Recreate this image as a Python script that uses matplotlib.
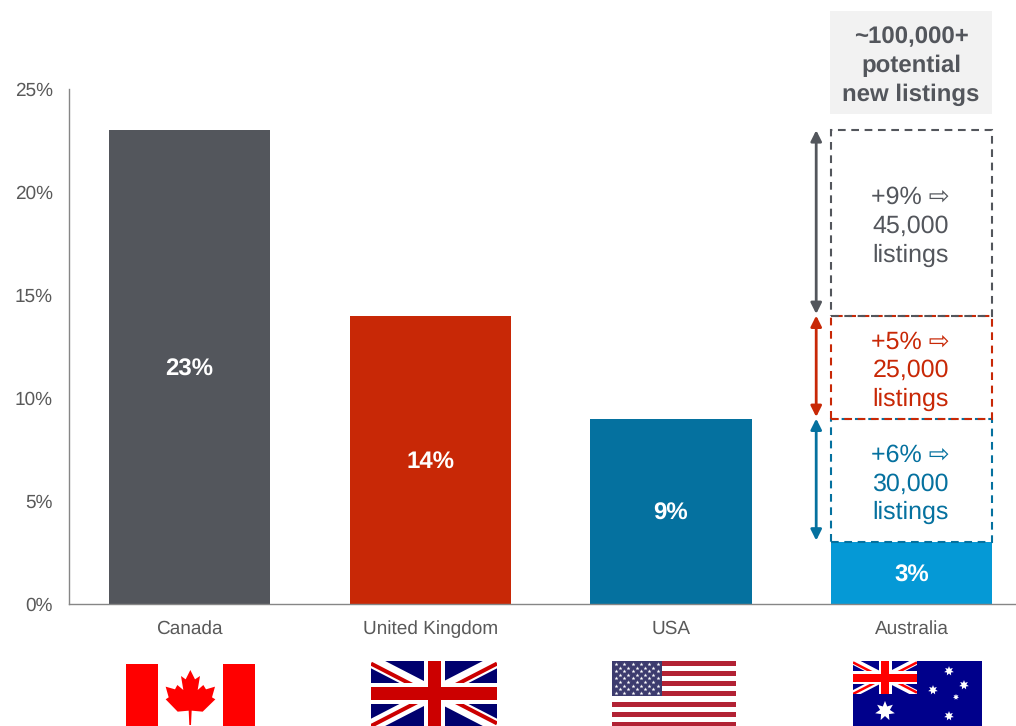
import numpy as np
import matplotlib
matplotlib.use('Agg')
import matplotlib.pyplot as plt
from matplotlib.patches import Rectangle, Polygon

plt.rcParams['font.family'] = ['Liberation Sans', 'DejaVu Sans']
plt.rcParams['text.hinting'] = 'none'
plt.rcParams['text.hinting_factor'] = 1

# data
countries = ['Canada', 'United Kingdom', 'USA', 'Australia']
shares = [23, 14, 9, 3]
bar_colors = ['#53565C', '#C82806', '#05719F', '#0599D6']
# Australia potential uplift if it reached each country's level
uplift = [6, 5, 9]
uplift_listings = ['30,000', '25,000', '45,000']
uplift_colors = ['#05719F', '#C82806', '#53565C']
yticks = [0, 5, 10, 15, 20, 25]
total_note = '~100,000+\npotential\nnew listings'

W, H = 1016, 726
GREY_TXT = '#595959'
fig = plt.figure(figsize=(W / 100, H / 100), dpi=100)

# main axes runs past the right edge so the categories stay evenly spaced
ax = fig.add_axes([69 / W, (H - 604) / H, 963.2 / W, 515 / H])
x = np.arange(len(countries))
ax.bar(x, shares, width=0.669, color=bar_colors, zorder=2)
ax.set_xlim(-0.5, 3.5)
ax.set_ylim(0, 25)
ax.set_xticks(x)
ax.set_xticklabels(countries, fontsize=13.8, color=GREY_TXT)
ax.set_yticks(yticks)
ax.set_yticklabels([str(v) + '%' for v in yticks], fontsize=14, color=GREY_TXT)
ax.tick_params(axis='both', length=0)
ax.tick_params(axis='x', pad=11.5)
ax.tick_params(axis='y', pad=11.5)
for s in ['top', 'right']:
    ax.spines[s].set_visible(False)
for s in ['left', 'bottom']:
    ax.spines[s].set_color('#868686')
    ax.spines[s].set_linewidth(1)

# value labels inside the bars
for i, v in enumerate(shares):
    ax.annotate(str(v) + '%', (i, v / 2), xytext=(0, -1.5), textcoords='offset points',
                ha='center', va='center', color='white', fontsize=17.6, fontweight='bold', zorder=3)

# dashed uplift boxes stacked on the Australia bar
bar_w = 0.669
arrow_x = 2.603
base = shares[3]
for d, lab, c in zip(uplift, uplift_listings, uplift_colors):
    ax.add_patch(Rectangle((3 - bar_w / 2, base), bar_w, d, fill=False, edgecolor=c,
                           lw=1.5, ls=(0, (3.7, 2.7)), zorder=4))
    ax.annotate('+%d%% \u21e8\n%s\nlistings' % (d, lab), (3, base + d / 2), xytext=(-0.8, -2.6),
                textcoords='offset points', ha='center', va='center', color=c, fontsize=17.8,
                linespacing=1.3, zorder=5)
    ax.annotate('', xy=(arrow_x, base + d), xytext=(arrow_x, base + 0.08),
                arrowprops=dict(arrowstyle='<|-|>', color=c, lw=2, mutation_scale=16,
                                shrinkA=0, shrinkB=0), zorder=5)
    base += d

# overlay in figure pixels for the note box and the flags
ov = fig.add_axes([0, 0, 1, 1], facecolor='none')
ov.set_xlim(0, W)
ov.set_ylim(H, 0)
ov.axis('off')

ov.add_patch(Rectangle((830, 11), 162, 103, color='#F2F2F2', lw=0))
ov.text(911, 66, total_note, ha='center', va='center', fontsize=17.5, fontweight='bold',
        color='#53565C', linespacing=1.36)


def clipped(artist, box):
    artist.set_clip_path(box)
    return artist


def union_jack(x0, y0, w, h, navy, red, cw, ww, dw, drw):
    box = Rectangle((x0, y0), w, h, color=navy, lw=0)
    ov.add_patch(box)
    cx, cy = x0 + w / 2, y0 + h / 2
    x1, y1 = x0 + w, y0 + h
    for xs, ys in [([x0, x1], [y0, y1]), ([x0, x1], [y1, y0])]:
        clipped(ov.plot(xs, ys, color='white', lw=dw * 0.72, solid_capstyle='butt', zorder=1)[0], box)
    # the thin red diagonals sit off-centre
    off = dw * 0.2
    segs = [([x0, cx], [y0 + off, cy + off]), ([x1, cx], [y0 + off, cy + off]),
            ([x0, cx], [y1, cy]), ([x1, cx], [y1 - off, cy - off])]
    for xs, ys in segs:
        clipped(ov.plot(xs, ys, color=red, lw=drw * 0.72, solid_capstyle='butt', zorder=1)[0], box)
    ov.add_patch(Rectangle((cx - ww / 2, y0), ww, h, color='white', lw=0, zorder=1.1))
    ov.add_patch(Rectangle((x0, cy - ww / 2), w, ww, color='white', lw=0, zorder=1.1))
    ov.add_patch(Rectangle((cx - cw / 2, y0), cw, h, color=red, lw=0, zorder=1.2))
    ov.add_patch(Rectangle((x0, cy - cw / 2), w, cw, color=red, lw=0, zorder=1.2))


# Canada
ov.add_patch(Rectangle((126, 664), 32, 62, color='#FF0000', lw=0))
ov.add_patch(Rectangle((223, 664), 32, 62, color='#FF0000', lw=0))
leaf = [(271, 90), (285, 118), (300, 108), (293, 150), (310, 135), (318, 148), (345, 140),
        (336, 172), (346, 178), (308, 215), (275, 212), (273, 255), (268, 255), (266, 212),
        (233, 215), (197, 178), (206, 172), (197, 140), (225, 148), (232, 135), (250, 150),
        (243, 108), (257, 118)]
ov.add_patch(Polygon([(100 + a / 3, 640 + b / 3) for a, b in leaf], color='#FF0000', lw=0))

# UK
union_jack(371, 661, 126, 65, '#00006E', '#CC0000', 13, 21, 13, 4)

# USA
for k in range(7):
    ov.add_patch(Rectangle((612, 661 + k * 10.15), 124, 5, color='#B22234', lw=0))
ov.add_patch(Rectangle((612, 661), 50, 35, color='#3C3B6E', lw=0))
sx, sy = [], []
for r in range(9):
    n = 6 if r % 2 == 0 else 5
    for c in range(n):
        sx.append(616 + c * 8.3 + (0 if r % 2 == 0 else 4.15))
        sy.append(664 + r * 3.6)
ov.scatter(sx, sy, marker='*', s=9, color='white', lw=0)

# Australia
ov.add_patch(Rectangle((853, 661), 129, 65, color='#00008B', lw=0, zorder=0.5))
union_jack(853, 661, 64, 33, '#00008B', '#FF0000', 8, 13, 7, 2.5)
star_x = [885, 949, 964, 933, 956, 949]
star_y = [711, 671, 685, 690, 697, 716]
star_s = [210, 50, 50, 50, 20, 50]
ov.scatter(star_x, star_y, marker=(7, 1, 0), s=star_s, color='white', lw=0)

fig.savefig('out.png', dpi=100)
